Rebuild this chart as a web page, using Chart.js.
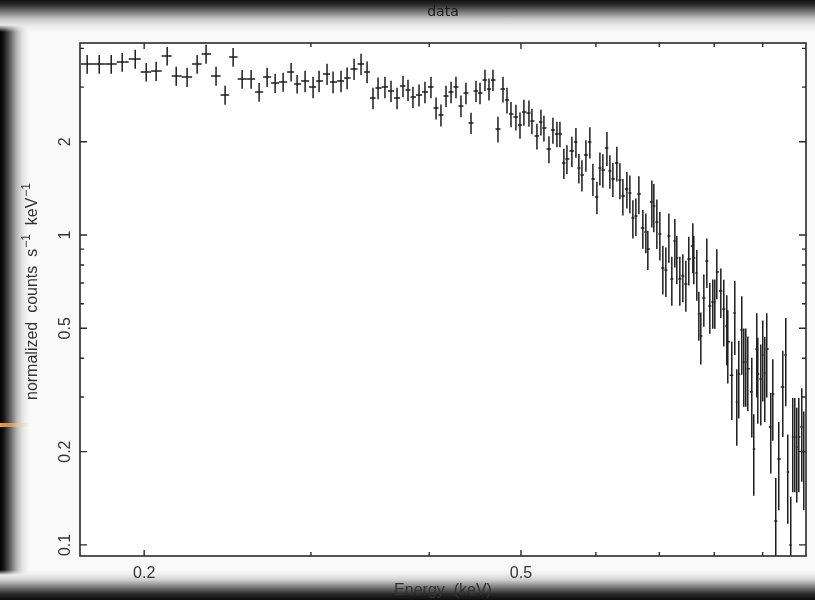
<!DOCTYPE html>
<html>
<head>
<meta charset="utf-8">
<script src="https://cdn.jsdelivr.net/npm/chart.js@4.4.1/dist/chart.umd.min.js"></script>
<style>
  html, body { margin: 0; padding: 0; background: #000; }
  #frame {
    position: relative;
    width: 815px;
    height: 600px;
    overflow: hidden;
    background:
      linear-gradient(to bottom, #111 0px, #2e2e2e 5px, #7a7a7a 12px, #c8c8c8 19px, #e8e8e8 25px, rgba(240,240,240,0) 32px),
      linear-gradient(to top, #0c0c0c 0px, #2a2a2a 6px, #7c7c7c 13px, #cfcfcf 20px, #ececec 25px, rgba(255,255,255,0) 30px),
      linear-gradient(to right, #000 0px, #181818 4px, #5e5e5e 10px, #b8b8b8 17px, #e6e6e6 23px, rgba(255,255,255,0) 29px),
      #f9f9f9;
  }
  #glow {
    position: absolute; left: 0; top: 423px; width: 30px; height: 4px;
    background: linear-gradient(to right, rgba(255,170,60,0.95), rgba(255,200,120,0.5) 60%, rgba(255,230,180,0));
    filter: blur(0.6px);
  }
  canvas { position: absolute; left: 0; top: 0; }
</style>
</head>
<body>
<div id="frame">
  <div id="glow"></div>
  <canvas id="spectrum" width="815" height="600"></canvas>
</div>
<script>
// channel energies (keV), normalized counts and 1-sigma errors
const energy = [
  0.1741, 0.1793, 0.1846, 0.1896, 0.1957, 0.2010, 0.2059, 0.2115, 0.2162, 0.2220,
  0.2275, 0.2325, 0.2382, 0.2435, 0.2483, 0.2538, 0.2594, 0.2645, 0.2697, 0.2750,
  0.2804, 0.2859, 0.2901, 0.2958, 0.3016, 0.3060, 0.3120, 0.3166, 0.3228, 0.3276,
  0.3332, 0.3389, 0.3439, 0.3489, 0.3532, 0.3592, 0.3645, 0.3699, 0.3753, 0.3799,
  0.3845, 0.3902, 0.3959, 0.4017, 0.4067, 0.4116, 0.4167, 0.4218, 0.4269, 0.4321,
  0.4374, 0.4428, 0.4482, 0.4526, 0.4581, 0.4626, 0.4671, 0.4728, 0.4786, 0.4833,
  0.4880, 0.4939, 0.4988, 0.5036, 0.5098, 0.5135, 0.5198, 0.5249, 0.5287, 0.5352,
  0.5404, 0.5457, 0.5497, 0.5550, 0.5591, 0.5659, 0.5715, 0.5756, 0.5799, 0.5855,
  0.5912, 0.5956, 0.6014, 0.6058, 0.6102, 0.6162, 0.6207, 0.6252, 0.6313, 0.6360,
  0.6406, 0.6469, 0.6516, 0.6564, 0.6612, 0.6660, 0.6725, 0.6774, 0.6807, 0.6874,
  0.6907, 0.6958, 0.7009, 0.7060, 0.7112, 0.7164, 0.7216, 0.7269, 0.7304, 0.7358,
  0.7412, 0.7466, 0.7520, 0.7594, 0.7612, 0.7668, 0.7706, 0.7743, 0.7800, 0.7857,
  0.7914, 0.7972, 0.8011, 0.8050, 0.8129, 0.8188, 0.8248, 0.8268, 0.8349, 0.8410,
  0.8451, 0.8492, 0.8554, 0.8596, 0.8638, 0.8680, 0.8765, 0.8807, 0.8872, 0.8894,
  0.8959, 0.9002, 0.9046, 0.9090, 0.9179, 0.9224, 0.9291, 0.9359, 0.9451, 0.9520,
  0.9566, 0.9636, 0.9683, 0.9731, 0.9778, 0.9826, 0.9898, 0.9946
];
const counts = [
  3.561, 3.561, 3.561, 3.615, 3.696, 3.356, 3.381, 3.779, 3.258, 3.234,
  3.561, 3.836, 3.258, 2.829, 3.752, 3.186, 3.186, 2.893, 3.234, 3.093,
  3.116, 3.356, 3.070, 3.139, 3.002, 3.139, 3.307, 3.116, 3.139, 3.210,
  3.432, 3.561, 3.356, 2.767, 2.980, 3.002, 2.914, 2.767, 3.024, 2.936,
  2.787, 2.829, 2.893, 3.002, 2.568, 2.438, 2.808, 2.893, 3.002, 2.607,
  2.871, 2.298, 2.914, 2.871, 3.162, 2.958, 3.162, 2.197, 2.958, 2.726,
  2.456, 2.402, 2.264, 2.493, 2.475, 2.332, 2.086, 2.315, 2.214, 1.894,
  2.181, 2.118, 2.118, 1.707, 1.759, 1.866, 1.995, 1.645, 1.562, 1.811,
  1.995, 1.516, 1.326, 1.645, 1.621, 1.908, 1.609, 1.516, 1.707, 1.505,
  1.336, 1.407, 1.366, 1.135, 1.152, 1.356, 1.053, 1.023, 0.901, 1.278,
  1.240, 1.101, 1.007, 0.783, 0.771, 0.993, 0.721, 0.956, 0.843, 0.721,
  0.737, 0.695, 0.837, 0.922, 0.843, 0.754, 0.556, 0.472, 0.626, 0.824,
  0.590, 0.608, 0.608, 0.760, 0.660, 0.577, 0.509, 0.452, 0.353, 0.560,
  0.289, 0.356, 0.494, 0.389, 0.389, 0.370, 0.312, 0.204, 0.429, 0.356,
  0.343, 0.410, 0.359, 0.429, 0.240, 0.307, 0.1195, 0.1894, 0.323, 0.410,
  0.172, 0.100, 0.223, 0.223, 0.207, 0.223, 0.240, 0.1995
];
const countErr = [
  0.25, 0.25, 0.25, 0.25, 0.26, 0.23, 0.24, 0.26, 0.23, 0.23,
  0.25, 0.27, 0.23, 0.20, 0.26, 0.22, 0.22, 0.20, 0.23, 0.22,
  0.22, 0.23, 0.21, 0.25, 0.24, 0.25, 0.26, 0.25, 0.25, 0.26,
  0.27, 0.28, 0.27, 0.22, 0.24, 0.24, 0.23, 0.22, 0.24, 0.23,
  0.22, 0.23, 0.23, 0.24, 0.21, 0.20, 0.22, 0.23, 0.24, 0.21,
  0.23, 0.18, 0.23, 0.23, 0.25, 0.24, 0.25, 0.21, 0.28, 0.26,
  0.23, 0.23, 0.22, 0.24, 0.24, 0.22, 0.20, 0.22, 0.21, 0.19,
  0.21, 0.20, 0.20, 0.19, 0.19, 0.21, 0.22, 0.18, 0.18, 0.21,
  0.23, 0.18, 0.16, 0.20, 0.20, 0.24, 0.20, 0.19, 0.22, 0.20,
  0.18, 0.19, 0.19, 0.16, 0.16, 0.19, 0.15, 0.15, 0.13, 0.22,
  0.22, 0.20, 0.18, 0.14, 0.14, 0.18, 0.13, 0.17, 0.15, 0.13,
  0.13, 0.13, 0.15, 0.17, 0.15, 0.14, 0.10, 0.09, 0.12, 0.15,
  0.11, 0.11, 0.11, 0.14, 0.12, 0.14, 0.13, 0.12, 0.10, 0.15,
  0.08, 0.10, 0.14, 0.11, 0.11, 0.10, 0.09, 0.06, 0.13, 0.11,
  0.10, 0.12, 0.11, 0.13, 0.07, 0.09, 0.045, 0.06, 0.10, 0.13,
  0.055, 0.043, 0.075, 0.075, 0.07, 0.075, 0.08, 0.07
];

const xTickValues = [0.2, 0.3, 0.4, 0.5, 0.6, 0.7, 0.8, 0.9];
const xTickLabels = ['0.2', '0.5'];
const yTickValues = [0.1, 0.2, 0.3, 0.4, 0.5, 0.6, 0.7, 0.8, 0.9, 1, 2, 3, 4];
const yTickLabels = ['0.1', '0.2', '0.5', '1', '2'];

const INK = '#1e1e1e';
const FONT = "'Liberation Sans', Arial, sans-serif";
Chart.defaults.font.family = FONT;

// white plot panel
const panelBg = {
  id: 'panelBg',
  beforeDraw(chart) {
    const a = chart.chartArea;
    const ctx = chart.ctx;
    ctx.save();
    ctx.fillStyle = '#ffffff';
    ctx.fillRect(a.left, a.top, a.right - a.left, a.bottom - a.top);
    ctx.restore();
  }
};

// crosses: x bar = channel width, y bar = count error
const errorBars = {
  id: 'errorBars',
  afterDatasetsDraw(chart) {
    const ctx = chart.ctx;
    const xs = chart.scales.x, ys = chart.scales.y;
    const a = chart.chartArea;
    ctx.save();
    ctx.beginPath();
    ctx.rect(a.left, a.top, a.right - a.left, a.bottom - a.top);
    ctx.clip();
    ctx.strokeStyle = INK;
    ctx.lineWidth = 1.5;
    const n = energy.length;
    for (let i = 0; i < n; i++) {
      const e = energy[i];
      const lo = i > 0 ? Math.sqrt(energy[i - 1] * e) : e * e / Math.sqrt(e * energy[i + 1]);
      const hi = i < n - 1 ? Math.sqrt(energy[i + 1] * e) : e * e / Math.sqrt(e * energy[i - 1]);
      const px = xs.getPixelForValue(e);
      const py = ys.getPixelForValue(counts[i]);
      const top = ys.getPixelForValue(counts[i] + countErr[i]);
      const low = counts[i] - countErr[i];
      const bot = low > 0 ? ys.getPixelForValue(low) : a.bottom + 20;
      ctx.beginPath();
      ctx.moveTo(xs.getPixelForValue(lo), py);
      ctx.lineTo(xs.getPixelForValue(hi), py);
      ctx.moveTo(px, top);
      ctx.lineTo(px, bot);
      ctx.stroke();
    }
    ctx.restore();
  }
};

// box, inward ticks on all sides, rotated y labels and y title with superscripts
const frameTicks = {
  id: 'frameTicks',
  afterDraw(chart) {
    const ctx = chart.ctx;
    const a = chart.chartArea;
    const xs = chart.scales.x, ys = chart.scales.y;
    ctx.save();
    ctx.strokeStyle = '#2a2a2a';
    ctx.lineWidth = 1.6;
    ctx.strokeRect(a.left, a.top, a.right - a.left, a.bottom - a.top);
    ctx.lineWidth = 1.4;
    ctx.beginPath();
    xTickValues.forEach(v => {
      const px = xs.getPixelForValue(v);
      const len = xTickLabels.includes(String(v)) ? 6 : 4;
      ctx.moveTo(px, a.bottom); ctx.lineTo(px, a.bottom - len);
      ctx.moveTo(px, a.top); ctx.lineTo(px, a.top + len);
    });
    yTickValues.forEach(v => {
      const py = ys.getPixelForValue(v);
      const len = yTickLabels.includes(String(v)) ? 7 : 4;
      ctx.moveTo(a.left, py); ctx.lineTo(a.left + len, py);
      ctx.moveTo(a.right, py); ctx.lineTo(a.right - len, py);
    });
    ctx.stroke();

    ctx.fillStyle = '#333';
    ctx.font = '16px ' + FONT;
    ctx.textAlign = 'center';
    ctx.textBaseline = 'middle';
    yTickLabels.forEach(lbl => {
      const py = ys.getPixelForValue(Number(lbl));
      ctx.save();
      ctx.translate(66, py);
      ctx.rotate(-Math.PI / 2);
      ctx.fillText(lbl, 0, 0);
      ctx.restore();
    });

    // y title: normalized counts s^-1 keV^-1
    const parts = [
      ['normalized  counts  s', false],
      ['\u22121', true],
      ['  keV', false],
      ['\u22121', true]
    ];
    const big = '16px ' + FONT, small = '12px ' + FONT;
    let total = 0;
    parts.forEach(([t, sup]) => { ctx.font = sup ? small : big; total += ctx.measureText(t).width + (sup ? 1 : 0); });
    ctx.save();
    ctx.translate(33, (a.top + a.bottom) / 2 - 8);
    ctx.rotate(-Math.PI / 2);
    ctx.textAlign = 'left';
    ctx.textBaseline = 'middle';
    let cx = -total / 2;
    parts.forEach(([t, sup]) => {
      ctx.font = sup ? small : big;
      ctx.fillText(t, cx + (sup ? 1 : 0), sup ? -6 : 0);
      cx += ctx.measureText(t).width + (sup ? 1 : 0);
    });
    ctx.restore();
    ctx.restore();
  }
};

const points = energy.map((e, i) => ({ x: e, y: counts[i] }));

new Chart(document.getElementById('spectrum'), {
  type: 'scatter',
  data: {
    datasets: [{
      label: 'data',
      data: points,
      pointRadius: 0,
      showLine: false
    }]
  },
  options: {
    responsive: false,
    animation: false,
    layout: { padding: { top: 0, right: 9, bottom: 0, left: 0 } },
    plugins: {
      legend: { display: false },
      tooltip: { enabled: false },
      title: {
        display: true,
        text: 'data',
        fullSize: false,
        color: '#1a1a1a',
        font: { family: "'DejaVu Sans', sans-serif", size: 14, weight: 'normal' },
        padding: { top: 4, bottom: 22.2 }
      }
    },
    scales: {
      x: {
        type: 'logarithmic',
        min: 0.1711,
        max: 1.0,
        grid: { display: false, drawTicks: false },
        border: { display: false },
        afterBuildTicks: s => { s.ticks = xTickValues.map(v => ({ value: v })); },
        afterFit: s => { s.height = 44; },
        ticks: {
          autoSkip: false,
          maxRotation: 0,
          padding: 8,
          color: '#333',
          font: { size: 16 },
          callback: v => (xTickLabels.includes(String(v)) ? String(v) : '')
        },
        title: {
          display: true,
          text: 'Energy  (keV)',
          color: '#333',
          font: { size: 16 },
          padding: { top: 0, bottom: 0 }
        }
      },
      y: {
        type: 'logarithmic',
        min: 0.0921,
        max: 4.163,
        grid: { display: false, drawTicks: false },
        border: { display: false },
        afterBuildTicks: s => { s.ticks = yTickValues.map(v => ({ value: v })); },
        afterFit: s => { s.width = 80; },
        ticks: { display: false },
        title: { display: false }
      }
    }
  },
  plugins: [panelBg, errorBars, frameTicks]
});
</script>
</body>
</html>
